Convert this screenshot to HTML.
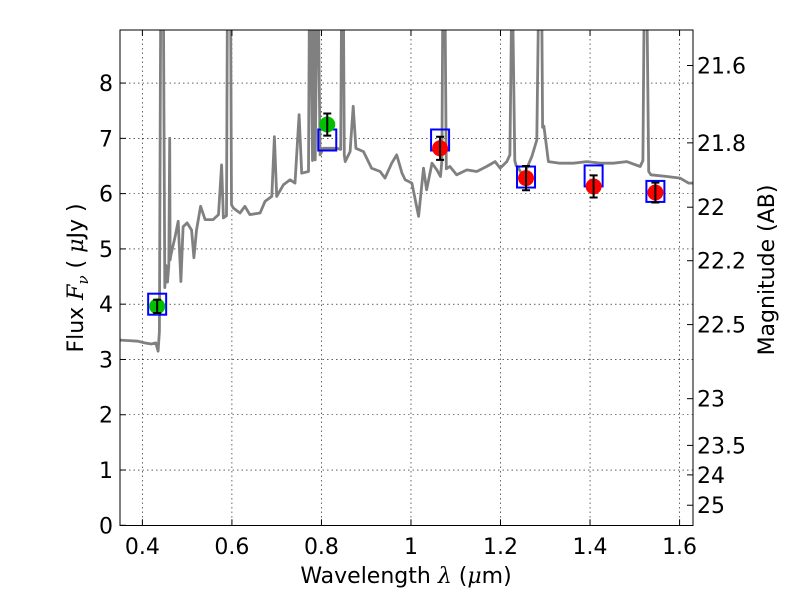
<!DOCTYPE html>
<html><head><meta charset="utf-8"><style>
body{margin:0;background:#fff}
svg text{font-family:"DejaVu Sans","Liberation Sans",sans-serif}
</style></head><body>
<svg id="chart" width="800" height="600" viewBox="0 0 800 600" xmlns="http://www.w3.org/2000/svg">
<rect width="800" height="600" fill="#fff"/>
<g id="grid"></g>
<g id="spec"></g>
<g id="pts"></g>
<rect x="120" y="30" width="573" height="495.5" fill="none" stroke="#000" stroke-width="1"/>
<g id="ticks"></g>
<text x="406" y="583" font-size="22" text-anchor="middle">Wavelength  <tspan font-style="italic" font-family="DejaVu Serif,serif">λ</tspan> (<tspan font-style="italic" font-family="DejaVu Serif,serif">μ</tspan>m)</text>
<text transform="translate(83,278) rotate(-90)" font-size="22" text-anchor="middle">Flux  <tspan font-style="italic" font-family="DejaVu Serif,serif">F</tspan><tspan font-style="italic" font-family="DejaVu Serif,serif" font-size="15" dy="5">ν</tspan><tspan dy="-5">  ( </tspan><tspan font-style="italic" font-family="DejaVu Serif,serif">μ</tspan>Jy )</text>
<text transform="translate(774,270) rotate(-90)" font-size="22" text-anchor="middle">Magnitude (AB)</text>
</svg>
<script>
const specLam=[0.35,0.39,0.405,0.42,0.43,0.435,0.438,0.441,0.447,0.450,0.453,0.456,0.459,0.461,0.462,0.464,0.473,0.480,0.486,0.491,0.50,0.51,0.515,0.521,0.53,0.54,0.558,0.57,0.577,0.581,0.588,0.59,0.597,0.599,0.603,0.618,0.629,0.64,0.663,0.674,0.689,0.695,0.70,0.715,0.73,0.741,0.75,0.756,0.771,0.773,0.776,0.78,0.783,0.786,0.79,0.793,0.797,0.80,0.804,0.834,0.843,0.845,0.849,0.851,0.853,0.864,0.871,0.877,0.894,0.912,0.931,0.942,0.957,0.968,0.98,0.987,1.002,1.017,1.028,1.035,1.047,1.058,1.066,1.069,1.071,1.076,1.079,1.087,1.102,1.125,1.147,1.169,1.188,1.199,1.214,1.221,1.225,1.227,1.232,1.235,1.238,1.251,1.27,1.281,1.285,1.287,1.292,1.294,1.297,1.307,1.333,1.363,1.393,1.423,1.452,1.482,1.512,1.518,1.521,1.527,1.531,1.536,1.572,1.601,1.62,1.63];
const specFlux=[3.35,3.33,3.30,3.28,3.30,3.15,3.5,9.5,9.5,4.3,4.7,4.4,4.7,7.0,4.8,4.9,5.22,5.5,4.41,5.4,5.47,5.34,4.84,5.34,5.77,5.53,5.53,5.62,6.52,5.56,5.6,9.5,9.5,5.8,5.74,5.65,5.77,5.62,5.65,5.86,5.95,7.03,5.95,6.16,6.25,6.19,7.43,6.37,6.4,9.5,9.5,6.6,9.5,6.61,9.5,9.5,6.7,6.75,6.82,6.82,6.8,9.5,9.5,6.7,6.58,6.76,7.58,6.82,6.76,6.46,6.4,6.28,6.55,6.7,6.37,6.25,6.19,5.59,6.46,6.07,6.55,6.43,6.31,6.6,9.5,9.5,6.45,6.49,6.34,6.43,6.4,6.49,6.58,6.46,6.58,6.7,9.5,9.5,6.6,6.5,6.49,6.31,6.67,6.97,9.5,9.5,9.5,7.2,7.22,6.58,6.55,6.55,6.58,6.55,6.55,6.58,6.49,6.6,9.5,9.5,6.4,6.34,6.31,6.28,6.19,6.19];
const obsLam=[0.433,0.813,1.065,1.257,1.408,1.546];
const obsFlux=[3.96,7.25,6.82,6.28,6.13,6.02];
const obsErr=[0.12,0.2,0.21,0.22,0.2,0.18];
const obsColor=["#00c000","#00c000","#ff0000","#ff0000","#ff0000","#ff0000"];
const modelFlux=[4.0,6.97,6.97,6.3,6.32,6.04];
const xTicks=[0.4,0.6,0.8,1.0,1.2,1.4,1.6];
const xTickLabels=["0.4","0.6","0.8","1","1.2","1.4","1.6"];
const yTicks=[0,1,2,3,4,5,6,7,8];
const magTicks=[21.6,21.8,22,22.2,22.5,23,23.5,24,25];
const magTickLabels=["21.6","21.8","22","22.2","22.5","23","23.5","24","25"];

const X0=120,X1=693,Y0=525.3,Y1=30,xmin=0.35,xmax=1.63,ymin=0,ymax=8.96;
const sx=v=>X0+(v-xmin)/(xmax-xmin)*(X1-X0);
const sy=v=>Y0-(v-ymin)/(ymax-ymin)*(Y0-Y1);
const NS="http://www.w3.org/2000/svg";
function mk(tag,attrs,parent){const e=document.createElementNS(NS,tag);for(const k in attrs)e.setAttribute(k,attrs[k]);parent.appendChild(e);return e;}
const grid=document.getElementById('grid'),ticks=document.getElementById('ticks'),spec=document.getElementById('spec'),pts=document.getElementById('pts');

xTicks.forEach((t,i)=>{
  const x=sx(t);
  const g=mk('line',{x1:x,x2:x,y1:Y1,y2:Y0,stroke:'#000','stroke-width':0.6,'stroke-dasharray':'1.5,3'},grid);
  
  
  mk('line',{x1:x,x2:x,y1:Y0,y2:Y0-6,stroke:'#000'},ticks);
  mk('line',{x1:x,x2:x,y1:Y1,y2:Y1+6,stroke:'#000'},ticks);
  const tx=mk('text',{x:x,y:554,'font-size':22,'text-anchor':'middle'},ticks);
  tx.textContent=xTickLabels[i];
  
  
});
yTicks.forEach(t=>{
  const y=sy(t);
  const g=mk('line',{x1:X0,x2:X1,y1:y,y2:y,stroke:'#000','stroke-width':0.6,'stroke-dasharray':'1.5,3'},grid);
  
  
  mk('line',{x1:X0,x2:X0+6,y1:y,y2:y,stroke:'#000'},ticks);
  const tx=mk('text',{x:113,y:y+8,'font-size':22,'text-anchor':'end'},ticks);
  tx.textContent=String(t);
  
  
});
magTicks.forEach((m,i)=>{
  const y=sy(Math.pow(10,(23.9-m)/2.5));
  mk('line',{x1:X1,x2:X1-6,y1:y,y2:y,stroke:'#000'},ticks);
  const tx=mk('text',{x:697,y:y+8,'font-size':22},ticks);
  tx.textContent=magTickLabels[i];
  
  
});
const clip=mk('clipPath',{id:'pc'},document.getElementById('chart'));
mk('rect',{x:X0,y:Y1,width:X1-X0,height:Y0-Y1},clip);
let d=specLam.map((l,i)=>(i?'L':'M')+sx(l).toFixed(1)+','+sy(specFlux[i]).toFixed(1)).join('');
const sp=mk('path',{d:d,fill:'none',stroke:'#808080','stroke-width':2.8,'stroke-linejoin':'round','clip-path':'url(#pc)'},spec);


obsLam.forEach((l,i)=>{
  const x=sx(l);
  const b=mk('rect',{x:x-9,y:sy(modelFlux[i])-10.5,width:18,height:21,fill:'none',stroke:'#0000ff','stroke-width':2},pts);
  
  
  const c=mk('circle',{cx:x,cy:sy(obsFlux[i]),r:8,fill:obsColor[i]},pts);
  
  
  const yt=sy(obsFlux[i]+obsErr[i]),yb=sy(obsFlux[i]-obsErr[i]);
  const e=mk('path',{d:`M${x},${yt}V${yb}M${x-4},${yt}H${x+4}M${x-4},${yb}H${x+4}`,stroke:'#000','stroke-width':2,fill:'none'},pts);
  
  
});
</script>
</body></html>
